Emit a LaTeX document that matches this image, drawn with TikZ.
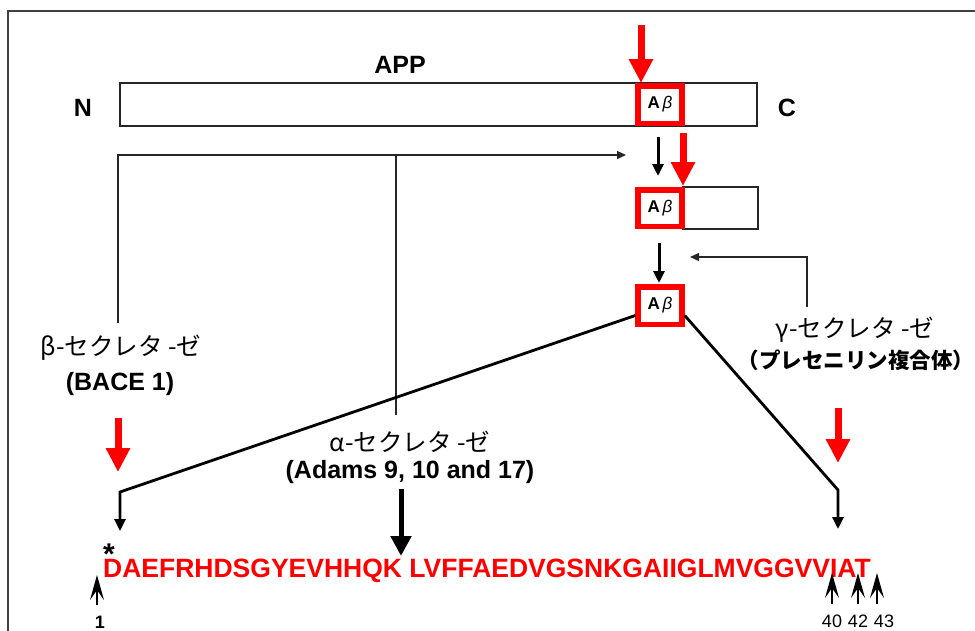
\documentclass[tikz,border=0pt]{standalone}
\usepackage{fontspec}
\setmainfont{Liberation Sans}
\newfontfamily\jp{Noto Sans CJK JP}
\usetikzlibrary{arrows.meta}
\begin{document}
\begin{tikzpicture}[x=1pt,y=-1pt,
  redarrow/.style={draw=red, line width=7pt, -{Triangle[width=23pt,length=24pt]}},
  blackarrow/.style={draw=black, line width=3pt, -{Triangle[width=11pt,length=12pt]}},
  thinarrow/.style={draw=black!85, line width=1.3pt, -{Triangle[width=8pt,length=9pt]}},
  thinline/.style={draw=black!85, line width=1.3pt},
  diag/.style={draw=black, line width=2.8pt, -{Triangle[width=11pt,length=12pt]}},
  thickarrow/.style={draw=black, line width=5pt, -{Triangle[width=20pt,length=20pt]}},
  uparrow/.style={draw=black, line width=1.5pt, -{Stealth[width=14pt,length=25pt,inset=10pt]}},
  abbox/.style={draw=red, line width=5.5pt, fill=white, minimum width=44pt, inner sep=0pt,
     font=\fontsize{17}{17}\selectfont},
  barbox/.style={draw=black!85, line width=1.3pt, fill=white, inner sep=0pt},
  lbl/.style={font=\fontsize{25}{30}\selectfont\bfseries, inner sep=0pt},
  jplbl/.style={font=\jp\fontsize{24.5}{28}\selectfont, inner sep=0pt},
  jpbold/.style={font=\jp\bfseries\fontsize{21.5}{26}\selectfont, inner sep=0pt},
  num/.style={font=\fontsize{18}{20}\selectfont, inner sep=0pt}
]
\useasboundingbox (0,0) rectangle (975,630);
\clip (0,0) rectangle (975,630);
\fill[white] (0,0) rectangle (975,630);
% frame
\draw[line width=2pt, black!75] (8,700) -- (8,11) -- (1000,11);

% APP bar
\node[barbox, minimum width=637pt, minimum height=43pt] (app) at (438.5,104.5) {};
\node[abbox, minimum height=37.5pt] (ab1) at (660,104.5) {\textbf{A}\,\textit{β}};
\node[lbl, anchor=base] (applbl) at (400,73) {APP};
\node[lbl, anchor=base] (nlbl) at (83,116) {N};
\node[lbl, anchor=base] (clbl) at (787,116) {C};

% second row
\node[barbox, minimum width=75pt, minimum height=42pt] (rest2) at (720.5,208) {};
\node[abbox, minimum height=36.5pt] (ab2) at (660,208) {\textbf{A}\,\textit{β}};
% third
\node[abbox, minimum height=37.5pt] (ab3) at (660,305.5) {\textbf{A}\,\textit{β}};

% arrows in the top part
\coordinate (ra1) at (641,25);
\draw[redarrow] (ra1) -- (ra1 |- ab1.north);
\coordinate (ba1s) at (658,137);
\coordinate (ba1e) at (658,176);
\draw[blackarrow] (ba1s) -- (ba1e);
\coordinate (ra2) at (683,133);
\draw[redarrow] (ra2) -- ([yshift=1pt]ra2 |- ab2.north);
\coordinate (ba2s) at (659,243);
\coordinate (ba2e) at (659,283);
\draw[blackarrow] (ba2s) -- (ba2e);

% secretase labels
\node[jplbl] (bl1) at (121,348) {β-セクレタ -ゼ};
\node[lbl, anchor=base] (bl2) at (120,390) {(BACE 1)};
\node[jplbl] (al1) at (410,442) {α-セクレタ -ゼ};
\node[lbl, anchor=base] (al2) at (410,478) {(Adams 9, 10 and 17)};
\node[jplbl] (gl1) at (855,330) {γ-セクレタ -ゼ};
\node[jpbold] (gl2) at (856,360) {（プレセニリン複合体）};

% beta / alpha lines
\coordinate (bt) at (118,323);
\coordinate (corner) at (118,155);
\coordinate (htip) at (626,155);
\draw[thinarrow] (bt) -- (corner) -- (htip);
\coordinate (at1) at (396,155);
\coordinate (at2) at (396,415);
\draw[thinline] (at1) -- (at2);
% gamma line
\coordinate (gt) at (807,307);
\coordinate (gtip) at (690,257);
\draw[thinarrow] (gt) |- (gtip);

% red arrows lower
\coordinate (rb1) at (118,418);
\coordinate (rb2) at (118,472);
\draw[redarrow] (rb1) -- (rb2);
\coordinate (rg1) at (838,408);
\coordinate (rg2) at (838,463);
\draw[redarrow] (rg1) -- (rg2);

% diagonals
\coordinate (lbend) at (120,492);
\coordinate (ltip) at (120,531);
\draw[diag] ([yshift=-10pt]ab3.west) -- (lbend) -- (ltip);
\coordinate (rbend) at (838,490);
\coordinate (rtip) at (838,529);
\draw[diag] ([yshift=-10pt]ab3.east) -- (rbend) -- (rtip);

% alpha thick arrow
\coordinate (aa1) at (401,489);
\coordinate (aa2) at (401,556);
\draw[thickarrow] (aa1) -- (aa2);

% sequence
\node[anchor=base west, inner sep=0pt, text=red, font=\fontsize{26.5}{30}\selectfont\bfseries] (seq) at (103,577)
  {DAEFRHDSGYEVHHQK LVFFAEDVGSNKGAIIGLMVGGVVIAT};
\node[anchor=base, inner sep=0pt, font=\fontsize{30}{30}\selectfont\bfseries] (star) at (109,564) {\smash{*}};

% small arrows below
\coordinate (u1b) at (97,605);  \coordinate (u1t) at (97,575);
\coordinate (u2b) at (832,604); \coordinate (u2t) at (832,573);
\coordinate (u3b) at (858,604); \coordinate (u3t) at (858,573);
\coordinate (u4b) at (877,604); \coordinate (u4t) at (877,573);
\draw[uparrow] (u1b) -- (u1t);
\draw[uparrow] (u2b) -- (u2t);
\draw[uparrow] (u3b) -- (u3t);
\draw[uparrow] (u4b) -- (u4t);
\node[num, anchor=base, font=\fontsize{18}{20}\selectfont\bfseries] (n1) at (100,628) {1};
\node[num, anchor=base] (n40) at (832,627) {40};
\node[num, anchor=base] (n42) at (858,627) {42};
\node[num, anchor=base] (n43) at (884,627) {43};
\end{tikzpicture}
\end{document}
